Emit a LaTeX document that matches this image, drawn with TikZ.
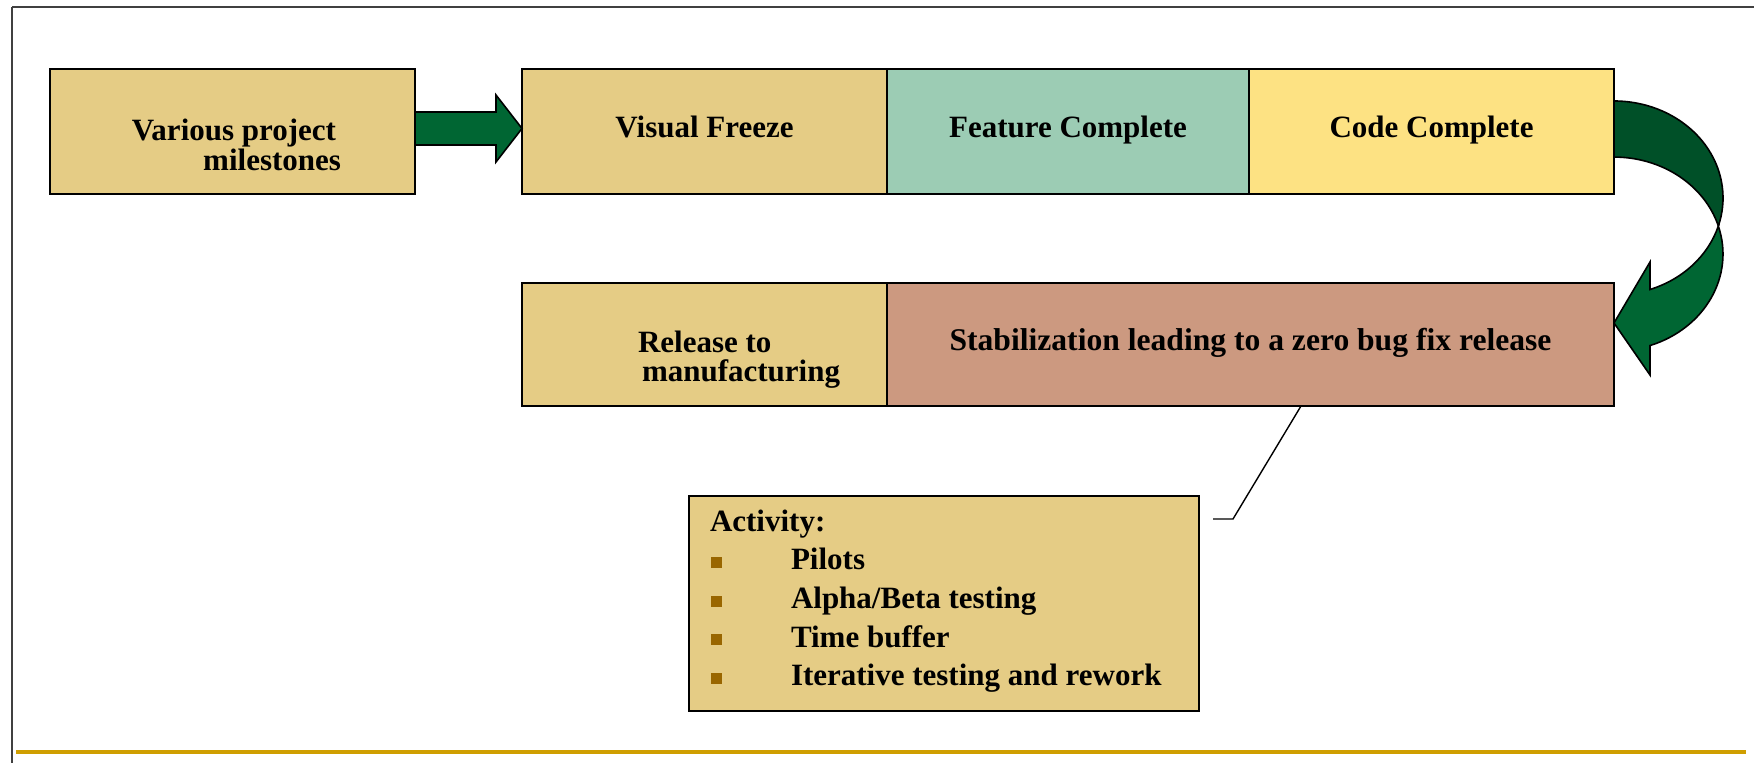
\documentclass[tikz,border=0pt]{standalone}
\usepackage{fontspec}
\setmainfont{Liberation Serif}
\usetikzlibrary{calc}

\definecolor{sand}{RGB}{229,204,133}
\definecolor{sage}{RGB}{156,204,180}
\definecolor{butter}{RGB}{253,226,131}
\definecolor{clay}{RGB}{204,153,128}
\definecolor{arrowgreen}{RGB}{0,102,51}
\definecolor{arrowdark}{RGB}{0,80,40}
\definecolor{bulletbrown}{RGB}{153,102,0}
\definecolor{rulegold}{RGB}{207,158,0}

\newcommand\sqbullet{\makebox[40pt][l]{\textcolor{bulletbrown}{\rule[0.8pt]{5.5pt}{5.5pt}}}}

\begin{document}
\begin{tikzpicture}[x=0.5pt,y=-0.5pt,
  stage/.style={draw=black, line width=0.8pt, inner sep=0pt, outer sep=0pt,
    font=\bfseries\fontsize{15.5}{15}\selectfont, minimum height=62.5pt,
    text height=10.5pt, text depth=4pt},
  lbl/.style={inner sep=0pt, outer sep=0pt, font=\bfseries\fontsize{15.5}{15}\selectfont},
  bigarrow/.style={draw=black, line width=0.8pt, line join=miter, fill=arrowgreen},
  pointer/.style={draw=black, line width=0.7pt}]
\useasboundingbox (0,0) rectangle (1754,763);

% frame lines
\draw[line width=1pt, black!75] (12,7) -- (1754,7);
\draw[line width=0.6pt, black!75] (12,7) -- (12,763);
\fill[rulegold] (16,750) rectangle (1746,754);

% top row of stages
\node[stage, fill=sand,   minimum width=182.5pt] (A) at (232.5,131.5) {};
\node[stage, fill=sand,   minimum width=182.5pt] (B) at (704.5,131.5) {Visual Freeze};
\node[stage, fill=sage,   minimum width=181pt]   (C) at (1068,131.5)  {Feature Complete};
\node[stage, fill=butter, minimum width=182.5pt] (D) at (1431.5,131.5) {Code Complete};

% bottom row of stages
\node[stage, fill=sand, minimum width=182.5pt, minimum height=61.5pt] (E) at (704.5,344.5) {};
\node[stage, fill=clay, minimum width=363.5pt, minimum height=61.5pt,
  font=\bfseries\fontsize{15.8}{15}\selectfont] (F) at (1250.5,344.5)
  {Stabilization leading to a zero bug fix release};

% activity box
\node[stage, fill=sand, minimum width=255pt, minimum height=107.5pt] (G) at (944,603.5) {};

% two-line labels
\node[lbl, anchor=base east] (At1) at (336,140.5) {Various project};
\node[lbl, anchor=base east] (At2) at (341,170.5) {milestones};
\node[lbl, anchor=base west] (Et1) at (638,352.5) {Release to};
\node[lbl, anchor=base west] (Et2) at (642,381.5) {manufacturing};

% activity list
\node[lbl, anchor=base west] (act0) at (710,531.5) {Activity:};
\foreach \t [count=\i] in {Pilots, {Alpha/Beta testing}, Time buffer, Iterative testing and rework}
  \node[lbl, anchor=base west] (act\i) at (711,{531.5+38.5*\i}) {\sqbullet\t};

% straight block arrow
\coordinate (s) at ($(A.east)+(0,-3)$);
\coordinate (t) at ($(B.west)+(0,-3)$);
\draw[bigarrow] ($(s)+(0,-16.5)$) -- ($(t)+(-26,-16.5)$) -- ($(t)+(-26,-33.5)$) -- (t)
  -- ($(t)+(-26,33.5)$) -- ($(t)+(-26,16.5)$) -- ($(s)+(0,16.5)$) -- cycle;

% curved block arrow: back face
\coordinate (ctop) at ($(D.east)+(0,-30.5)$);
\coordinate (cross) at ($(D.east)+(104.3,94.5)$);
\draw[bigarrow, fill=arrowdark] (ctop)
  arc[start angle=-90, end angle=16.8, x radius=109, y radius=97]
  arc[start angle=-16.8, end angle=-90, x radius=109, y radius=97] -- cycle;
% curved block arrow: front face with head
\draw[bigarrow] (cross)
  arc[start angle=-16.8, end angle=70.7, x radius=109, y radius=97]
  -- ($(F.east)+(36,30.5)$) -- ($(F.east)+(0,-21.5)$) -- ($(F.east)+(36,-82.5)$)
  -- ($(F.east)+(36,-55)$)
  arc[start angle=70.7, end angle=16.8, x radius=109, y radius=97] -- cycle;

% callout pointer
\coordinate (pstart) at ($(G.east)+(14,-84.5)$);
\draw[pointer] (pstart) -- ++(20,0) -- ($(F.south west)+(414,0)$);
\end{tikzpicture}
\end{document}
